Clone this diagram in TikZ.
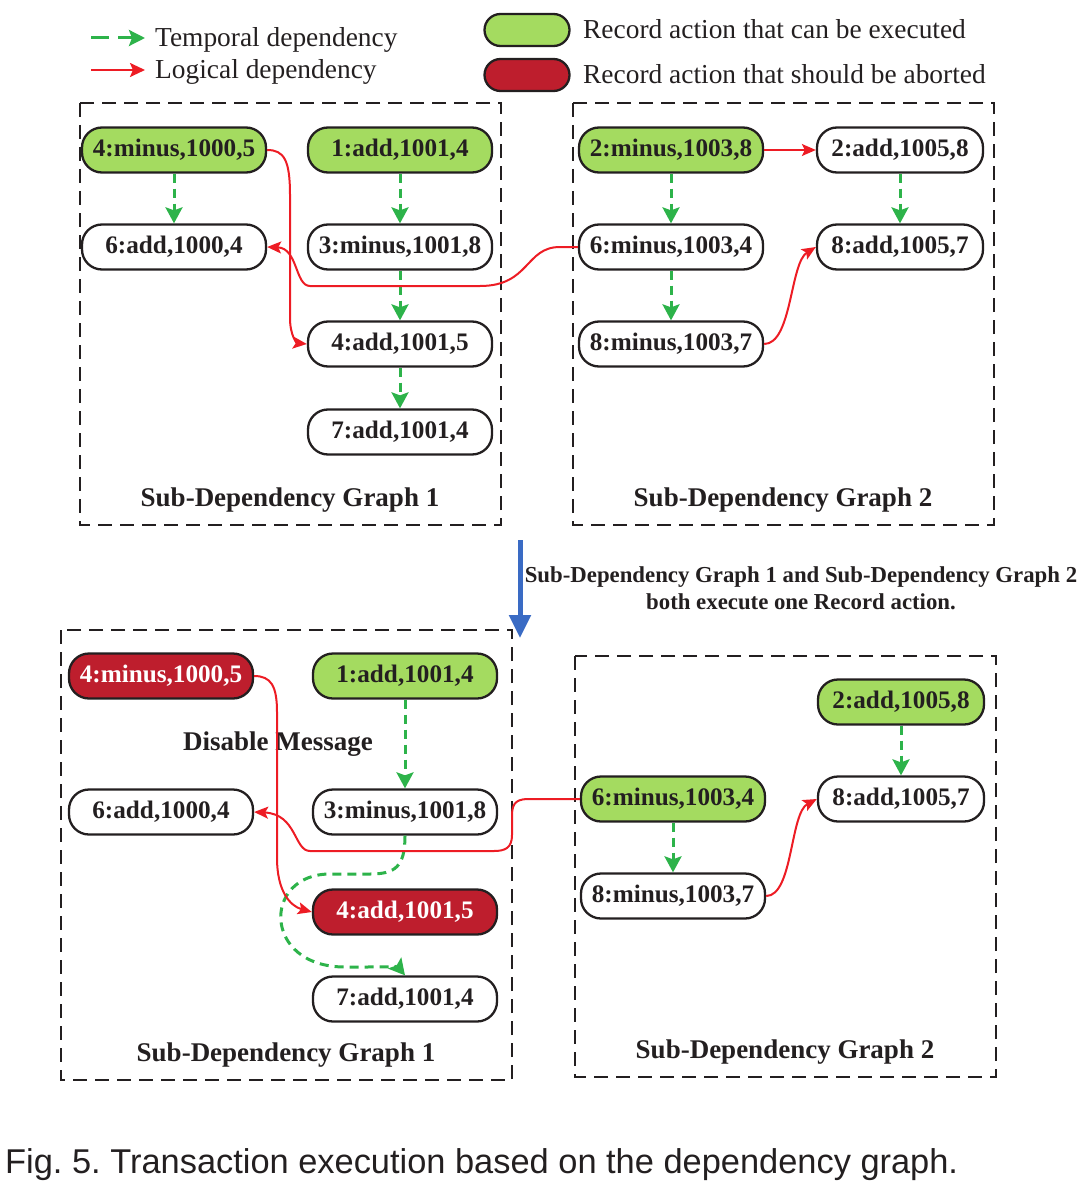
\documentclass[tikz,border=0pt]{standalone}
\usepackage{fontspec}
\setmainfont{Liberation Serif}
\newfontfamily\capfont{Liberation Sans}
\usetikzlibrary{arrows.meta}
\definecolor{gfill}{HTML}{A4DB60}
\definecolor{rfill}{HTML}{BE1E2D}
\definecolor{gline}{HTML}{2DB34A}
\definecolor{rline}{HTML}{ED1C24}
\definecolor{bline}{HTML}{3A6BC4}
\definecolor{nline}{HTML}{231F20}
\frenchspacing
\begin{document}
\begin{tikzpicture}[x=1pt,y=-1pt,
 nd/.style={draw=nline, line width=2.3pt, rounded corners=20pt, minimum width=184pt, minimum height=45pt, inner sep=0pt, font=\fontsize{25.2}{30}\selectfont\bfseries, fill=white, text=nline},
 ok/.style={nd, fill=gfill},
 ab/.style={nd, fill=rfill, text=white},
 nar/.style={minimum width=166pt},
 tmp/.style={draw=gline, line width=3pt, dash pattern=on 9pt off 6pt, -{Stealth[length=16pt,width=17pt,inset=3pt]}},
 lgc/.style={draw=rline, line width=2pt, -{Stealth[length=14pt,width=12pt,inset=3pt]}},
 grp/.style={draw=nline, line width=2pt, dash pattern=on 14pt off 8pt},
 glabel/.style={font=\fontsize{27}{32}\selectfont\bfseries, text=nline},
 lgtext/.style={font=\fontsize{27.4}{32}\selectfont, text=nline, anchor=base west, inner sep=0pt},
 lgbox/.style={draw=nline, line width=2.3pt, rounded corners=16pt, minimum width=85pt, minimum height=32pt, inner sep=0pt}
]
\useasboundingbox (0,0) rectangle (1085,1185);

% ---------- legend ----------
\coordinate (lg1s) at (91,38); \coordinate (lg1e) at (145,38);
\coordinate (lg2s) at (91,70); \coordinate (lg2e) at (145,70);
\draw[draw=gline, line width=3pt, dash pattern=on 18pt off 9pt, -{Stealth[length=16pt,width=16pt,inset=3pt]}] (lg1s) -- (lg1e);
\draw[draw=rline, line width=2.2pt, -{Stealth[length=15pt,width=14pt,inset=3pt]}] (lg2s) -- (lg2e);
\node[lgtext] (lt1) at (155,47) {Temporal dependency};
\node[lgtext] (lt2) at (155,79) {Logical dependency};
\node[lgbox, fill=gfill] (lb1) at (527,30) {};
\node[lgbox, fill=rfill] (lb2) at (527,75) {};
\node[lgtext] (lt3) at (583,39) {Record action that can be executed};
\node[lgtext] (lt4) at (583,84) {Record action that should be aborted};

% ---------- top graph 1 ----------
\draw[grp] (80,103) rectangle (501,525);
\node[ok] (ta1) at (174,150) {4:minus,1000,5};
\node[ok] (tb1) at (400,150) {1:add,1001,4};
\node[nd] (tc1) at (174,247) {6:add,1000,4};
\node[nd] (td1) at (400,247) {3:minus,1001,8};
\node[nd] (te1) at (400,344) {4:add,1001,5};
\node[nd] (tf1) at (400,432) {7:add,1001,4};
\node[glabel] (tl1) at (290,500) {Sub-Dependency Graph 1};

% ---------- top graph 2 ----------
\draw[grp] (573,103) rectangle (994,525);
\node[ok] (ta2) at (671,150) {2:minus,1003,8};
\node[nd,nar] (tb2) at (900,150) {2:add,1005,8};
\node[nd] (tc2) at (671,247) {6:minus,1003,4};
\node[nd,nar] (td2) at (900,247) {8:add,1005,7};
\node[nd] (te2) at (671,344) {8:minus,1003,7};
\node[glabel] (tl2) at (783,500) {Sub-Dependency Graph 2};

% top connectors
\draw[tmp] (ta1) -- (tc1);
\draw[tmp] (tb1) -- (td1);
\draw[tmp] (td1) -- (te1);
\draw[tmp] (te1) -- (tf1);
\draw[tmp] (ta2) -- (tc2);
\draw[tmp] (tc2) -- (te2);
\draw[tmp] (tb2) -- (td2);
\draw[lgc] (ta1.east) .. controls (284,150) and (290,160) .. (290,195) -- (290,318) .. controls (290,336) and (297,343) .. (te1.west);
\draw[lgc] (tc2.west) -- (560,247) .. controls (525,247) and (530,286) .. (480,286) -- (310,286) .. controls (295,286) and (298,248) .. (tc1.east);
\draw[lgc] (ta2.east) -- (tb2.west);
\draw[lgc] (te2.east) .. controls (792,344) and (790,263) .. (td2.west);

% ---------- middle arrow ----------
\coordinate (bs) at (520,540); \coordinate (be) at (520,638);
\draw[draw=bline, line width=5pt, -{Triangle[length=23pt,width=21pt]}] (bs) -- (be);
\node[font=\fontsize{22.8}{27}\selectfont\bfseries, align=center, text=nline] (mt) at (801,588) {Sub-Dependency Graph 1 and Sub-Dependency Graph 2\\both execute one Record action.};

% ---------- bottom graph 1 ----------
\draw[grp] (61,630) rectangle (512,1080);
\node[ab] (ba1) at (161,676) {4:minus,1000,5};
\node[ok] (bb1) at (405,676) {1:add,1001,4};
\node[nd] (bc1) at (161,812) {6:add,1000,4};
\node[nd] (bd1) at (405,812) {3:minus,1001,8};
\node[ab] (be1) at (405,912) {4:add,1001,5};
\node[nd] (bf1) at (405,999) {7:add,1001,4};
\node[glabel] (dm) at (278,744) {Disable Message};
\node[glabel] (bl1) at (286,1055) {Sub-Dependency Graph 1};

% ---------- bottom graph 2 ----------
\draw[grp] (575,656) rectangle (996,1077);
\node[ok,nar] (bb2) at (901,702) {2:add,1005,8};
\node[ok] (bc2) at (673,799) {6:minus,1003,4};
\node[nd,nar] (bd2) at (901,799) {8:add,1005,7};
\node[nd] (be2) at (673,896) {8:minus,1003,7};
\node[glabel] (bl2) at (785,1052) {Sub-Dependency Graph 2};

% bottom connectors
\draw[tmp] (bb1) -- (bd1);
\draw[tmp] (bb2) -- (bd2);
\draw[tmp] (bc2) -- (be2);
\draw[tmp] (bd1.south) .. controls (405,867) and (395,874) .. (370,874) -- (330,874) .. controls (262,874) and (262,967) .. (345,967) .. controls (385,967) and (398,967) .. (bf1.north);
\draw[lgc] (ba1.east) .. controls (271,676) and (277,686) .. (277,712) -- (277,858) .. controls (277,891) and (290,906) .. (be1.west);
\draw[lgc] (bc2.west) -- (528,799) .. controls (514,799) and (512,806) .. (512,816) -- (512,835) .. controls (512,848) and (505,851) .. (494,851) -- (310,851) .. controls (294,851) and (297,814) .. (bc1.east);
\draw[lgc] (be2.east) .. controls (793,896) and (790,813) .. (bd2.west);

% ---------- caption ----------
\node[anchor=base west, inner sep=0pt, font=\capfont\fontsize{34.4}{40}\selectfont, text=nline] (cap) at (5,1173) {Fig. 5. Transaction execution based on the dependency graph.};
\end{tikzpicture}
\end{document}
